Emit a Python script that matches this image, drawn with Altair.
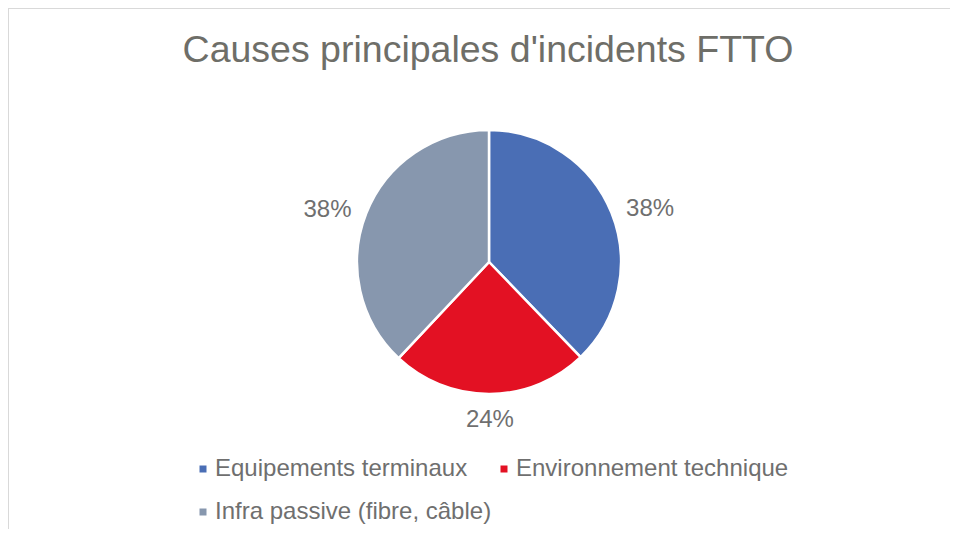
import altair as alt
import pandas as pd

# ---- data ----
categories = ["Equipements terminaux", "Environnement technique", "Infra passive (fibre, câble)"]
shares = [37.8, 24.2, 38.0]
colors = ["#4a6eb5", "#e31123", "#8797ae"]
title_text = "Causes principales d'incidents FTTO"

df = pd.DataFrame({"cause": categories, "share": shares, "rank": list(range(len(categories)))})

FONT = "Liberation Sans"
TXT = "#6f6f6f"
W, H = 942, 521
CX, CY = 481, 254
R = 132

base = alt.Chart(df)

color = alt.Color(
    "cause:N",
    scale=alt.Scale(domain=categories, range=colors),
    sort=categories,
    legend=alt.Legend(
        title=None,
        orient="none",
        legendX=183,
        legendY=449,
        direction="horizontal",
        columns=2,
        padding=0,
        symbolType="square",
        symbolSize=49,
        symbolStrokeWidth=0,
        symbolOpacity=1,
        labelFontSize=24,
        labelFont=FONT,
        labelColor=TXT,
        labelOffset=0,
        labelLimit=500,
        columnPadding=-6,
        rowPadding=19,
    ),
)

pie = base.mark_arc(outerRadius=R, stroke="white", strokeWidth=2.5).encode(
    theta=alt.Theta("share:Q", stack=True),
    order=alt.Order("rank:Q"),
    color=color,
    x=alt.value(CX),
    y=alt.value(CY),
)

labels = (
    base.transform_joinaggregate(total="sum(share)")
    .transform_window(cum="sum(share)", sort=[alt.SortField("rank")], frame=[None, 0])
    .transform_calculate(mid="2*PI*(datum.cum - datum.share/2)/datum.total")
    .transform_calculate(rad="134 + 38*abs(sin(datum.mid)) + 12*abs(cos(datum.mid))")
    .transform_calculate(pct="format(datum.share/datum.total, '.0%')")
    .mark_text(fontSize=24, font=FONT, color=TXT, dy=12)
    .encode(
        theta=alt.Theta("mid:Q", scale=None, stack=False),
        radius=alt.Radius("rad:Q", scale=None),
        text="pct:N",
        x=alt.value(CX),
        y=alt.value(CY),
    )
)

title = alt.Chart(pd.DataFrame({"t": [title_text]})).mark_text(
    fontSize=37.5, font=FONT, color="#6e6e68", baseline="alphabetic", align="center"
).encode(x=alt.value(480), y=alt.value(54), text="t:N")

border_top = alt.Chart(pd.DataFrame({"a": [0]})).mark_rule(color="#d9d9d9", strokeWidth=1).encode(
    x=alt.value(0), x2=alt.value(W), y=alt.value(0.5)
)
border_left = alt.Chart(pd.DataFrame({"a": [0]})).mark_rule(color="#d9d9d9", strokeWidth=1).encode(
    x=alt.value(0.5), y=alt.value(0), y2=alt.value(H)
)

chart = (
    alt.layer(border_top, border_left, title, pie, labels)
    .properties(width=W, height=H, autosize=alt.AutoSizeParams(type="none"), padding=0, background="white")
    .configure_view(strokeWidth=0)
)

chart.save("out.html", embed_options={"renderer": "svg", "actions": False})
